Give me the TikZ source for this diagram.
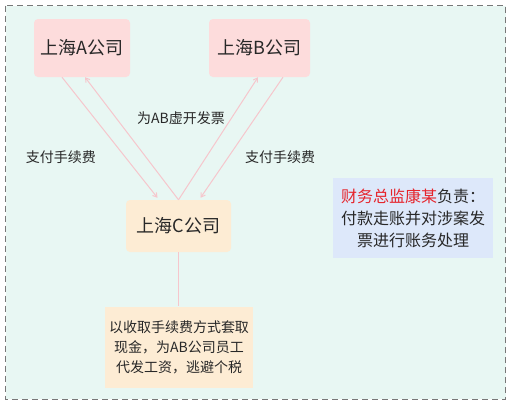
\documentclass[tikz,border=0pt]{standalone}
\usepackage{fontspec}
\setmainfont{Noto Sans CJK SC}
\usetikzlibrary{arrows.meta}
\definecolor{mintbg}{RGB}{232,247,243}
\definecolor{framegray}{RGB}{120,120,120}
\definecolor{pinkfill}{RGB}{253,220,220}
\definecolor{orangefill}{RGB}{253,236,212}
\definecolor{bluefill}{RGB}{221,232,250}
\definecolor{linkpink}{RGB}{246,198,204}
\definecolor{alertred}{RGB}{230,36,44}
\definecolor{inkgray}{RGB}{40,40,40}

\begin{document}
\begin{tikzpicture}[x=1pt, y=-1pt, text=inkgray,
  company/.style={rounded corners=4pt, inner sep=0pt, align=center,
    font=\fontsize{18}{22}\selectfont},
  note/.style={inner sep=0pt, align=center},
  link/.style={draw=linkpink, line width=1pt},
  flow/.style={link, -{Straight Barb[length=4pt, width=5pt]}},
  tag/.style={font=\fontsize{14}{17}\selectfont, inner sep=0pt}]
\useasboundingbox (0,0) rectangle (512,407);
\fill[white] (0,0) rectangle (512,407);
\draw[framegray, fill=mintbg, dash pattern=on 6pt off 4pt] (5.5,5.5) rectangle (505.5,399);

\node[company, fill=pinkfill, minimum width=96pt, minimum height=58pt] (A) at (82,48) {上海A公司};
\node[company, fill=pinkfill, minimum width=101pt, minimum height=58pt] (B) at (259.5,48) {上海B公司};
\node[company, fill=orangefill, minimum width=105pt, minimum height=52pt] (C) at (178.5,226) {上海C公司};
\node[note, fill=orangefill, minimum width=148pt, minimum height=81pt,
  font=\fontsize{14}{20}\selectfont] (D) at (179,347)
  {以收取手续费方式套取\\现金，为AB公司员工\\代发工资，逃避个税};
\node[note, fill=bluefill, minimum width=160pt, minimum height=80pt,
  font=\fontsize{16}{22}\selectfont] (E) at (413,218)
  {\textcolor{alertred}{财务总监康某}负责：\\付款走账并对涉案发\\票进行账务处理};

% A and B pay C, C issues invoices
\draw[flow] ([xshift=-20pt]A.south) -- ([xshift=-21pt, yshift=2pt]C.north);
\draw[flow] (C.north) -- ([xshift=3pt]A.south);
\draw[flow] (C.north) -- ([xshift=-1.5pt]B.south);
\draw[flow] ([xshift=23.5pt]B.south) -- ([xshift=22pt, yshift=2pt]C.north);
\draw[link] (C.south) -- (C.south |- D.north);

\node[tag] (payA) at (61,157) {支付手续费};
\node[tag] (payB) at (280,157) {支付手续费};
\node[tag] (invoice) at (181,118) {为AB虚开发票};
\end{tikzpicture}
\end{document}
